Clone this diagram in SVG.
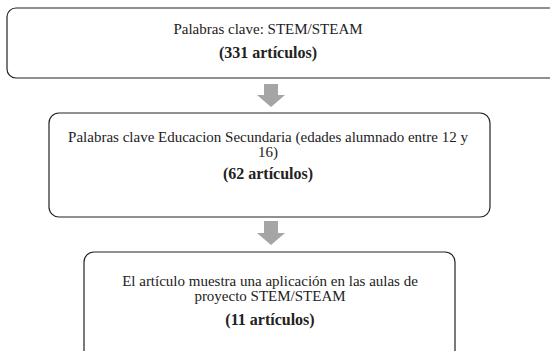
<svg xmlns="http://www.w3.org/2000/svg" width="550" height="351" viewBox="0 0 550 351">
<style>
.box{fill:#fff;stroke:#222;stroke-width:1.2}
.t{font-family:"Liberation Serif","DejaVu Serif","Times New Roman",serif;font-size:15px;fill:#222;text-anchor:middle}
.b{font-weight:bold;font-size:16px}
.arrow{fill:#a5a5a5}
</style>
<rect width="550" height="351" fill="#fff"/>
<g id="node1">
<rect class="box" x="7" y="8" width="560" height="70" rx="9"/>
<text class="t" x="268" y="34">Palabras clave: STEM/STEAM</text>
<text class="t b" x="268" y="58">(331 artículos)</text>
</g>
<g id="node2">
<rect class="box" x="49" y="113" width="441" height="104" rx="10"/>
<text class="t" x="268" y="142">Palabras clave Educacion Secundaria (edades alumnado entre 12 y</text>
<text class="t" x="268" y="157">16)</text>
<text class="t b" x="268" y="179">(62 artículos)</text>
</g>
<g id="node3">
<rect class="box" x="84" y="252" width="371" height="115" rx="10"/>
<text class="t" x="270" y="286">El artículo muestra una aplicación en las aulas de</text>
<text class="t" x="270" y="301">proyecto STEM/STEAM</text>
<text class="t b" x="270" y="325">(11 artículos)</text>
</g>
<g id="connectors">
<polygon class="arrow" points="264,84 278,84 278,95 285,95 271,107 257,95 264,95"/>
<polygon class="arrow" points="264,221 278,221 278,233 285,233 271,245 257,233 264,233"/>
</g>
</svg>
